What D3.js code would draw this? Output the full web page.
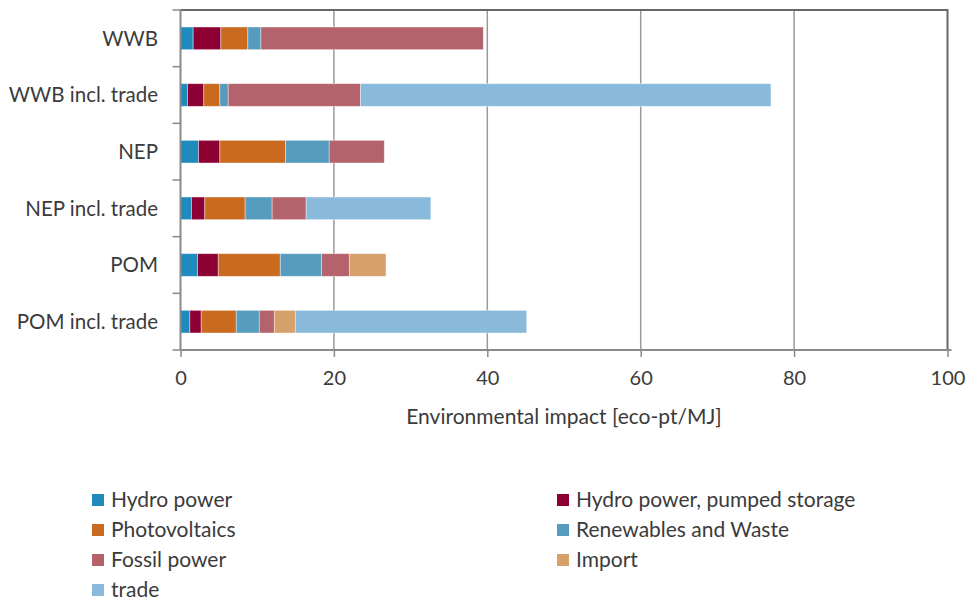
<!DOCTYPE html>
<html><head><meta charset="utf-8">
<script src="https://cdn.jsdelivr.net/npm/d3@7"></script>
<style>body{margin:0;background:#fff}svg{display:block}text{font-family:Lato,"Open Sans",sans-serif;fill:#3b3b3b}</style>
</head><body><svg id="c" width="969" height="604"></svg>
<script>
const categories = ["WWB","WWB incl. trade","NEP","NEP incl. trade","POM","POM incl. trade"];
const seriesNames = ["Hydro power","Hydro power, pumped storage","Photovoltaics","Renewables and Waste","Fossil power","Import","trade"];
const seriesColors = ["#1f8bbd","#8c0033","#c96a1f","#569cbe","#b4626b","#d6a06a","#8abadb"];
const hydro    = [1.65, 0.91, 2.35, 1.43, 2.22, 1.22];
const pumped   = [3.61, 2.13, 2.78, 1.74, 2.70, 1.48];
const pv       = [3.52, 2.09, 8.57, 5.26, 8.09, 4.57];
const renew    = [1.70, 1.09, 5.69, 3.52, 5.39, 3.00];
const fossil   = [29.0, 17.26, 7.18, 4.43, 3.61, 1.96];
const importV  = [0, 0, 0, 0, 4.78, 2.74];
const trade    = [0, 53.5, 0, 16.26, 0, 30.17];
const xTicks = [0,20,40,60,80,100];

const seriesValues = [hydro,pumped,pv,renew,fossil,importV,trade];
const rows = categories.map((c,i)=>{const o={cat:c};seriesNames.forEach((s,j)=>o[s]=seriesValues[j][i]);return o;});
const stack = d3.stack().keys(seriesNames)(rows);

const svg = d3.select("#c");
const L=180.5,R=947.5,T=10,B=350;
const x = d3.scaleLinear().domain([0,100]).range([L,R]);
const y = d3.scaleBand().domain(categories).range([T,B]).paddingInner(0.6).paddingOuter(0.3);

// gridlines
svg.append("g").selectAll("line").data(xTicks.slice(1,-1)).join("line")
  .attr("x1",d=>x(d)).attr("x2",d=>x(d)).attr("y1",T).attr("y2",B)
  .attr("stroke","#9a9a9a").attr("stroke-width",1.5);
// top and right border
svg.append("path").attr("d",`M${L},${T}H${R}V${B}`).attr("fill","none").attr("stroke","#666").attr("stroke-width",2);

// bars
svg.append("g").selectAll("g").data(stack).join("g")
  .attr("fill",(d,i)=>seriesColors[i])
  .selectAll("rect").data(d=>d.filter(p=>p[1]-p[0]>0)).join("rect")
  .attr("x",d=>x(d[0])).attr("width",d=>x(d[1])-x(d[0]))
  .attr("y",d=>y(d.data.cat)).attr("height",y.bandwidth())
  .attr("stroke","#fff").attr("stroke-opacity",0.5).attr("stroke-width",0.8);

// x axis
const xa = svg.append("g").attr("transform",`translate(0,${B})`)
  .call(d3.axisBottom(x).tickValues(xTicks).tickSize(7).tickPadding(14));
xa.select(".domain").attr("stroke","#8a8a8a").attr("stroke-width",2).attr("d",`M${L},0H${R+4}`);
xa.selectAll(".tick line").attr("stroke","#8a8a8a").attr("stroke-width",1.5);
xa.selectAll(".tick text").attr("font-size",20).attr("font-family","Lato,sans-serif").attr("fill","#3b3b3b");

// y axis
const bounds = d3.range(categories.length+1).map(i=>T+i*(B-T)/categories.length);
svg.append("line").attr("x1",L).attr("x2",L).attr("y1",T).attr("y2",B).attr("stroke","#8a8a8a").attr("stroke-width",2);
svg.append("g").selectAll("line").data(bounds).join("line")
  .attr("x1",L-8).attr("x2",L).attr("y1",d=>d).attr("y2",d=>d).attr("stroke","#8a8a8a").attr("stroke-width",1.5);
svg.append("g").selectAll("text").data(categories).join("text")
  .attr("x",158).attr("y",d=>y(d)+y.bandwidth()/2).attr("dy","0.35em")
  .attr("text-anchor","end").attr("font-size",20.5).text(d=>d);

svg.append("text").attr("x",564).attr("y",417).attr("dy","0.35em").attr("text-anchor","middle").attr("font-size",21)
  .text("Environmental impact [eco-pt/MJ]");

// legend
const lg = svg.append("g").selectAll("g").data(seriesNames).join("g")
  .attr("transform",(d,i)=>`translate(${i%2===0?92:557},${500+Math.floor(i/2)*30})`);
lg.append("rect").attr("x",0).attr("y",-6).attr("width",12).attr("height",12).attr("fill",(d,i)=>seriesColors[i]);
lg.append("text").attr("x",19).attr("y",0).attr("dy","0.35em").attr("font-size",21).text(d=>d);
</script></body></html>
